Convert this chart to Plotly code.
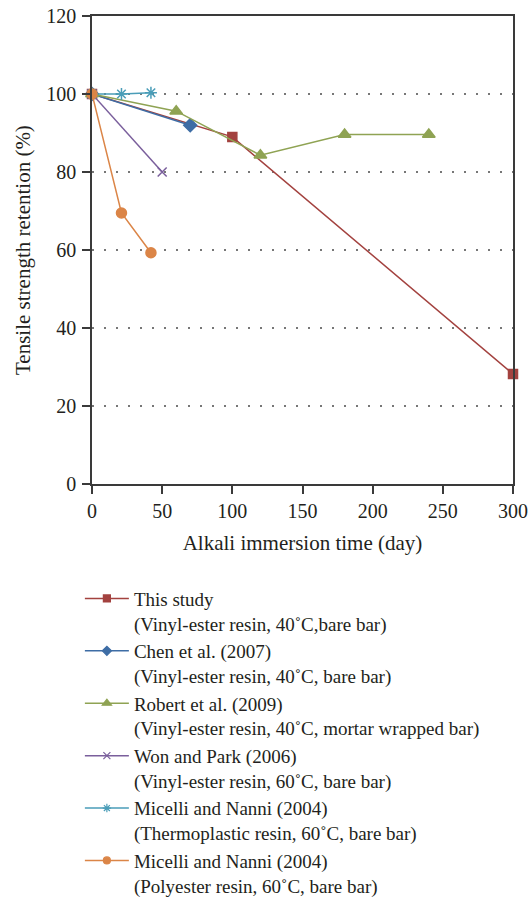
import plotly.graph_objects as go

# ---- data ----
names = [
    "This study<br>(Vinyl-ester resin, 40˚C,bare bar)",
    "Chen et al. (2007)<br>(Vinyl-ester resin, 40˚C, bare bar)",
    "Robert et al. (2009)<br>(Vinyl-ester resin, 40˚C, mortar wrapped bar)",
    "Won and Park (2006)<br>(Vinyl-ester resin, 60˚C, bare bar)",
    "Micelli and Nanni (2004)<br>(Thermoplastic resin, 60˚C, bare bar)",
    "Micelli and Nanni (2004)<br>(Polyester resin, 60˚C, bare bar)",
]
this_x = [0, 100, 300]
this_y = [100, 89.0, 28.2]
chen_x = [0, 70]
chen_y = [100, 92.0]
robert_x = [0, 60, 120, 180, 240]
robert_y = [100, 95.6, 84.3, 89.6, 89.6]
won_x = [0, 50]
won_y = [100, 80]
mn_thermo_x = [0, 21, 42]
mn_thermo_y = [100, 100.0, 100.3]
mn_poly_x = [0, 21, 42]
mn_poly_y = [100, 69.5, 59.3]

x_ticks = [0, 50, 100, 150, 200, 250, 300]
y_ticks = [0, 20, 40, 60, 80, 100, 120]
x_title = "Alkali immersion time (day)"
y_title = "Tensile strength retention (%)"

colors = ["#A3423F", "#3E6DA5", "#8FA353", "#7A5F9C", "#4A9DB8", "#DB8547"]
symbols = ["square", "diamond", "triangle-up", "x-thin-open", "asterisk-open", "circle"]
sizes = [9, 10, 11, 9, 10, 10]
legend_sizes = [7, 7, 8, 7, 7, 7]

series = [(this_x, this_y), (chen_x, chen_y), (robert_x, robert_y),
          (won_x, won_y), (mn_thermo_x, mn_thermo_y), (mn_poly_x, mn_poly_y)]

FONT = "Liberation Serif"
TXT = "#231f20"

fig = go.Figure()
for i, (xs, ys) in enumerate(series):
    fig.add_trace(go.Scatter(
        x=xs, y=ys, name=names[i], mode="lines+markers",
        line=dict(color=colors[i], width=1.5),
        marker=dict(symbol=symbols[i], size=sizes[i], color=colors[i],
                    line=dict(color=colors[i], width=1.5)),
        cliponaxis=False, legendgroup=f"g{i}", showlegend=False,
    ))
# legend entries (smaller symbols, as in the reference key)
for i in range(len(series)):
    fig.add_trace(go.Scatter(
        x=[None], y=[None], name=names[i], mode="lines+markers",
        line=dict(color=colors[i], width=1.5),
        marker=dict(symbol=symbols[i], size=legend_sizes[i], color=colors[i],
                    line=dict(color=colors[i], width=1.2)),
        legendgroup=f"g{i}", showlegend=True,
    ))

axis_common = dict(
    showline=True, linecolor="#3a3a3a", linewidth=1.5, mirror=True,
    ticks="outside", ticklen=8, tickwidth=1.5, tickcolor="#3a3a3a",
    zeroline=False, ticklabeloverflow="allow",
    tickfont=dict(family=FONT, size=20, color=TXT),
    title_font=dict(family=FONT, size=21, color=TXT),
)

fig.update_xaxes(range=[0, 300], tickvals=x_ticks, showgrid=False,
                 title_text=x_title, ticklabelstandoff=0,
                 **axis_common)
fig.update_yaxes(range=[0, 120], tickvals=y_ticks, showgrid=True,
                 gridcolor="#777777", gridwidth=1.5, griddash="1.5px,10.5px",
                 ticklabelstandoff=2,
                 **axis_common)

fig.add_annotation(
    text=y_title, textangle=-90, xref="paper", yref="paper",
    x=0, y=0.5, xanchor="center", yanchor="middle", xshift=-69,
    showarrow=False, font=dict(family=FONT, size=21, color=TXT),
)

fig.update_layout(
    width=529, height=900,
    margin=dict(l=92, r=16, t=16, b=416, autoexpand=False),
    paper_bgcolor="white", plot_bgcolor="white",
    font=dict(family=FONT, size=19, color=TXT),
    showlegend=True,
    legend=dict(
        xref="container", yref="container",
        x=0.151, y=0.356, xanchor="left", yanchor="top",
        valign="top", tracegroupgap=0, itemwidth=44,
        font=dict(family=FONT, size=19, color=TXT),
        bgcolor="rgba(0,0,0,0)",
    ),
)

fig.write_html(
    "out.html",
    config={"displayModeBar": False},
    post_script="document.body.style.margin='0';document.body.style.overflow='hidden';",
)
